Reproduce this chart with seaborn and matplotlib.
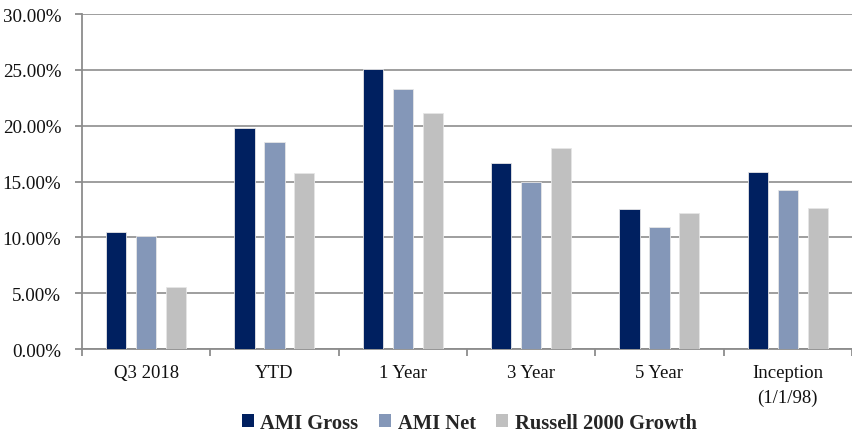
import numpy as np
import pandas as pd
import matplotlib
matplotlib.use("Agg")
import matplotlib.pyplot as plt
import seaborn as sns
from matplotlib.patches import Patch
from matplotlib.ticker import FuncFormatter, FixedLocator

# ==========================================
# 資料
# ==========================================
periods = ["Q3 2018", "YTD", "1 Year", "3 Year", "5 Year", "Inception\n(1/1/98)"]
series_names = ["AMI Gross", "AMI Net", "Russell 2000 Growth"]
ami_gross = [10.45, 19.8, 25.05, 16.7, 12.5, 15.85]
ami_net = [10.1, 18.5, 23.25, 15.0, 10.9, 14.2]
russell_2000_growth = [5.52, 15.75, 21.1, 18.0, 12.15, 12.65]
colors = ["#002060", "#8497B8", "#C0C0C0"]

df = pd.DataFrame({
    "period": periods * 3,
    "series": [s for s in series_names for _ in periods],
    "value": ami_gross + ami_net + russell_2000_growth,
})

sns.set_theme(style="white")
plt.rcParams["font.family"] = ["Liberation Serif", "DejaVu Serif"]

fig = plt.figure(figsize=(8.53, 4.35), dpi=100)
ax = fig.add_axes([0.0961, 0.1954, 0.9027, 0.770])

sns.barplot(data=df, x="period", y="value", hue="series", order=periods,
            hue_order=series_names, palette=colors, width=0.7, gap=0.33,
            saturation=1, ax=ax, legend=False, zorder=3,
            edgecolor="#e6e6e6", linewidth=0.6)

ax.set_ylim(0, 30)
ax.set_xlim(-0.5, 5.5)
ax.set_yticks(np.arange(0, 31, 5))
ax.yaxis.set_major_formatter(FuncFormatter(lambda v, p: f"{v:.2f}%"))
ax.grid(axis="y", color="#969696", linewidth=1.3, zorder=0)
ax.set_axisbelow(True)

for side in ["top", "right"]:
    ax.spines[side].set_visible(False)
for side in ["left", "bottom"]:
    ax.spines[side].set_color("#8c8c8c")
    ax.spines[side].set_linewidth(1.3)

ax.tick_params(axis="y", which="major", left=True, length=5, width=1.3,
               color="#8c8c8c", labelsize=13.7, labelcolor="#111111", pad=10)
ax.tick_params(axis="x", which="major", length=0, labelsize=13.5,
               labelcolor="#111111", pad=11)
for lbl in ax.get_xticklabels():
    lbl.set_linespacing(1.55)
ax.xaxis.set_minor_locator(FixedLocator(np.arange(-0.5, 6, 1)))
ax.tick_params(axis="x", which="minor", bottom=True, length=5, width=1.3,
               color="#8c8c8c")
ax.set_xlabel("")
ax.set_ylabel("")

handles = [Patch(facecolor=c, edgecolor="none", label=n)
           for c, n in zip(colors, series_names)]
fig.legend(handles=handles, loc="center", bbox_to_anchor=(0.55, 0.025),
           ncol=3, frameon=False, handlelength=0.6, handleheight=0.6,
           handletextpad=0.3, columnspacing=1.0,
           prop={"size": 14.8, "weight": "bold"})

fig.savefig("out.png", dpi=100)
